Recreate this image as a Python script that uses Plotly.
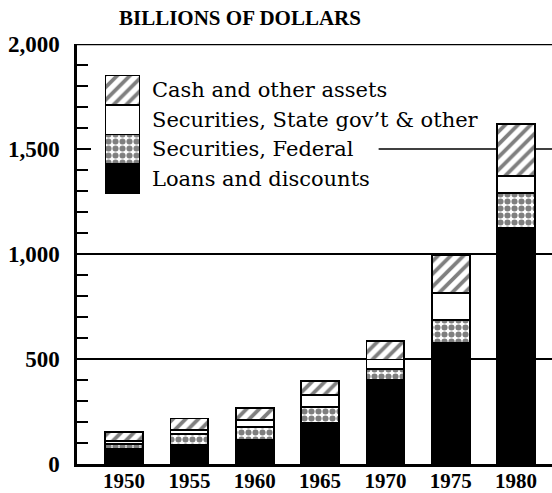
import plotly.graph_objects as go

years = ["1950", "1955", "1960", "1965", "1970", "1975", "1980"]
loans = [71, 90, 114, 194, 400, 575, 1122]
sec_federal = [24, 51, 64, 76, 51, 111, 167]
sec_state = [14, 21, 32, 59, 47, 127, 82]
cash_other = [44, 55, 58, 68, 88, 182, 248]

series_names = ["Loans and discounts", "Securities, Federal",
                "Securities, State gov\u2019t & other", "Cash and other assets"]
y_ticks = [0, 500, 1000, 1500, 2000]
y_tick_labels = ["0", "500", "1,000", "1,500", "2,000"]
title_text = "BILLIONS OF DOLLARS"

SERIF = "Liberation Serif"
styles = [
    dict(color="black", pattern=dict(shape="")),
    dict(color="white", pattern=dict(shape=".", fgcolor="black", bgcolor="white", size=7, solidity=0.6, fillmode="overlay")),
    dict(color="white", pattern=dict(shape="")),
    dict(color="white", pattern=dict(shape="/", fgcolor="black", bgcolor="white", size=9, solidity=0.42, fillmode="overlay")),
]
data_series = [loans, sec_federal, sec_state, cash_other]

fig = go.Figure()
for name, vals, st in zip(series_names, data_series, styles):
    fig.add_trace(go.Bar(
        x=years, y=vals, name=name, width=0.58,
        marker=dict(color=st["color"], pattern=st["pattern"],
                    line=dict(color="black", width=1.8)),
        showlegend=False, xaxis="x", yaxis="y"))

# legend swatch as inset stacked bar
for name, st in zip(series_names, styles):
    fig.add_trace(go.Bar(
        x=["k"], y=[1], width=1, name=name,
        marker=dict(color=st["color"], pattern=st["pattern"],
                    line=dict(color="black", width=1.8)),
        showlegend=False, xaxis="x2", yaxis="y2", hoverinfo="skip"))

for i, name in enumerate(series_names):
    fig.add_annotation(x=0.154, xref="paper", y=i + 0.5, yref="y2",
                       text=name, showarrow=False, xanchor="left", yanchor="middle",
                       font=dict(family="DejaVu Serif", size=21, color="black"))

fig.add_annotation(x=0.343, xref="paper", y=1.062, yref="paper", text="<b>" + title_text + "</b>",
                   showarrow=False, xanchor="center", yanchor="middle",
                   font=dict(family=SERIF, size=21, color="black"))

# grid / frame lines
for yv in [500, 1000]:
    fig.add_shape(type="line", xref="paper", x0=0, x1=1, yref="y", y0=yv, y1=yv,
                  line=dict(color="black", width=2), layer="below")
fig.add_shape(type="line", xref="paper", x0=0.635, x1=1, yref="y", y0=1500, y1=1500,
              line=dict(color="black", width=1.5), layer="below")
fig.add_shape(type="line", xref="paper", x0=0, x1=1, yref="y", y0=2000, y1=2000,
              line=dict(color="black", width=2.5), layer="below")

fig.update_layout(
    barmode="stack",
    width=552, height=493,
    margin=dict(l=77, r=0, t=44, b=29),
    paper_bgcolor="white", plot_bgcolor="rgba(0,0,0,0)",
    font=dict(family=SERIF, color="black"),
    xaxis=dict(type="category", range=[-0.72, 6.55], showgrid=False, zeroline=False,
               showline=True, linecolor="black", linewidth=2.5, ticks="",
               tickfont=dict(family=SERIF, size=21, weight="bold"), ticklabelstandoff=-4),
    yaxis=dict(range=[0, 2000], tickvals=y_ticks, ticktext=y_tick_labels,
               showgrid=False, zeroline=False, showline=True, linecolor="black", linewidth=2.5,
               ticks="inside", ticklen=14, tickwidth=2, tickcolor="black",
               minor=dict(dtick=100, ticks="inside", ticklen=11, tickwidth=1.5, tickcolor="black"),
               tickfont=dict(family=SERIF, size=23, weight="bold"), ticklabelstandoff=10),
    xaxis2=dict(domain=[0.059, 0.1326], anchor="y2", range=[-0.5, 0.5], visible=False, type="category"),
    yaxis2=dict(domain=[0.643, 0.926], anchor="x2", range=[0, 4], visible=False),
)

fig.write_html("out.html")
